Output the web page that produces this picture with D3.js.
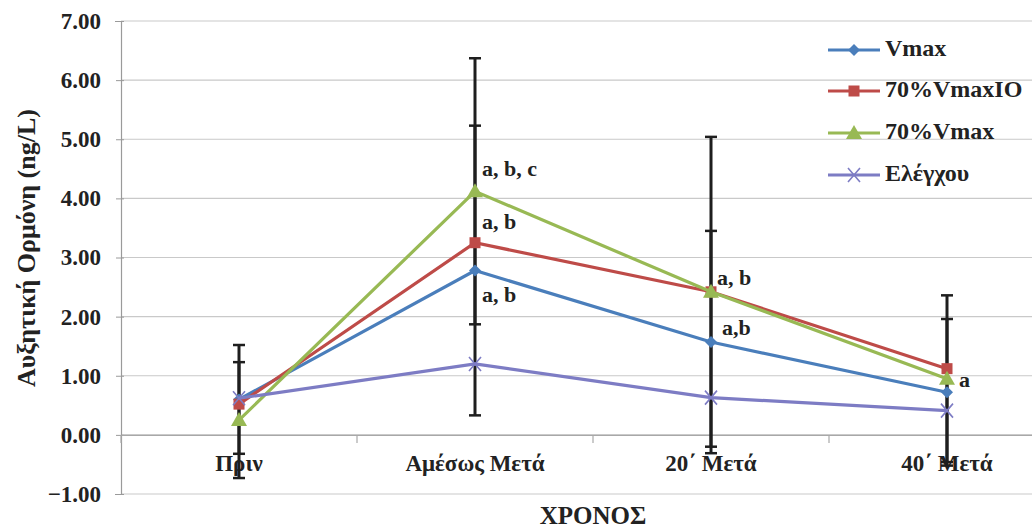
<!DOCTYPE html>
<html><head><meta charset="utf-8">
<script src="https://cdn.jsdelivr.net/npm/d3@7"></script>
<style>
html,body{margin:0;padding:0;background:#fff;}
svg{display:block;font-family:"Liberation Serif","Times New Roman",serif;font-weight:bold;}
</style></head>
<body><svg id="c" width="1032" height="528"></svg>
<script>
const categories = ["Πριν", "Αμέσως Μετά", "20΄ Μετά", "40΄ Μετά"];
const seriesNames = ["Vmax", "70%VmaxIO", "70%Vmax", "Ελέγχου"];
const vmax      = [0.60, 2.78, 1.57, 0.72];
const vmaxIO70  = [0.52, 3.25, 2.42, 1.12];
const vmax70    = [0.25, 4.12, 2.42, 0.95];
const control   = [0.62, 1.20, 0.63, 0.41];
const sdVmax    = [0.92, 2.45, 1.88, 1.24];
const sdVmax70  = [0.98, 2.25, 2.62, 1.41];
const yTicks    = [-1, 0, 1, 2, 3, 4, 5, 6, 7];
const annotations = [
  {cat: 1, value: 4.12, text: "a, b, c", dx: 7, dy: -20},
  {cat: 1, value: 3.25, text: "a, b", dx: 7, dy: -19},
  {cat: 1, value: 2.78, text: "a, b", dx: 7, dy: 26},
  {cat: 2, value: 2.42, text: "a, b", dx: 6, dy: -12},
  {cat: 2, value: 1.57, text: "a,b", dx: 11, dy: -12},
  {cat: 3, value: 0.95, text: "a", dx: 12, dy: 3}
];

const colors = ["#4a7ebb", "#be4b48", "#98b954", "#7d7cc4"];
const shapes = ["diamond", "square", "triangle", "cross"];
const series = [vmax, vmaxIO70, vmax70, control];
const errs = [sdVmax, null, sdVmax70, null];

const svg = d3.select("#c");
const x = d3.scaleBand().domain(categories).range([121, 1065]);
const y = d3.scaleLinear().domain([-1, 7]).range([494, 21]);
const cx = c => x(c) + x.bandwidth() / 2;

// gridlines
svg.append("g").selectAll("line").data(yTicks).join("line")
  .attr("x1", 121).attr("x2", 1065)
  .attr("y1", d => y(d)).attr("y2", d => y(d))
  .attr("stroke", "#c9c9c9").attr("stroke-width", 1.2);

// y axis
const yAxis = d3.axisLeft(y).tickValues(yTicks).tickFormat(d3.format(".2f")).tickSize(6).tickPadding(14);
const gy = svg.append("g").attr("transform", "translate(121,0)").call(yAxis);
gy.select(".domain").attr("stroke", "#9a9a9a").attr("stroke-width", 1.2);
gy.selectAll(".tick line").attr("stroke", "#9a9a9a").attr("x2", -5).attr("x1", 3);
gy.selectAll(".tick text").attr("font-size", 23).attr("font-weight", "bold")
  .attr("font-family", "Liberation Serif").attr("fill", "#222");

// x axis at 0
const xAxis = d3.axisBottom(x).tickSize(0).tickPadding(20);
const gx = svg.append("g").attr("transform", `translate(0,${y(0)})`).call(xAxis);
gx.select(".domain").attr("stroke", "#a8a8a8").attr("stroke-width", 1.2);
gx.selectAll(".tick text").attr("font-size", 23).attr("font-weight", "bold")
  .attr("font-family", "Liberation Serif").attr("fill", "#222");
svg.append("g").selectAll("line").data(categories).join("line")
  .attr("x1", d => x(d)).attr("x2", d => x(d))
  .attr("y1", y(0)).attr("y2", y(0) + 8)
  .attr("stroke", "#a8a8a8").attr("stroke-width", 1.2);

// axis titles
svg.append("text").attr("transform", `translate(29,248) rotate(-90)`)
  .attr("text-anchor", "middle").attr("dominant-baseline", "middle")
  .attr("font-size", 26).attr("fill", "#222").text("Αυξητική Ορμόνη (ng/L)");
svg.append("text").attr("x", 593).attr("y", 524)
  .attr("text-anchor", "middle").attr("font-size", 25).attr("fill", "#222").text("ΧΡΟΝΟΣ");

// error bars
series.forEach((s, i) => {
  if (!errs[i]) return;
  const g = svg.append("g");
  s.forEach((v, j) => {
    const e = errs[i][j], X = cx(categories[j]);
    g.append("line").attr("x1", X).attr("x2", X).attr("y1", y(v + e)).attr("y2", y(v - e))
      .attr("stroke", "#1e1e1e").attr("stroke-width", 3);
    [v + e, v - e].forEach(t => g.append("line").attr("x1", X - 6).attr("x2", X + 6)
      .attr("y1", y(t)).attr("y2", y(t)).attr("stroke", "#1e1e1e").attr("stroke-width", 2.5));
  });
});

function marker(g, shape, color, X, Y) {
  if (shape === "diamond") {
    g.append("path").attr("d", `M${X},${Y-6}L${X+6},${Y}L${X},${Y+6}L${X-6},${Y}Z`).attr("fill", color);
  } else if (shape === "square") {
    g.append("rect").attr("x", X-5.5).attr("y", Y-5.5).attr("width", 11).attr("height", 11).attr("fill", color);
  } else if (shape === "triangle") {
    g.append("path").attr("d", `M${X},${Y-8}L${X+8},${Y+6}L${X-8},${Y+6}Z`).attr("fill", color);
  } else {
    g.append("path").attr("d", `M${X-6},${Y-7}L${X+6},${Y+7}M${X-6},${Y+7}L${X+6},${Y-7}`)
      .attr("stroke", color).attr("stroke-width", 1.6).attr("fill", "none");
  }
}

// lines + markers
const line = d3.line().x((d, j) => cx(categories[j])).y(d => y(d));
series.forEach((s, i) => {
  const g = svg.append("g");
  g.append("path").datum(s).attr("d", line).attr("fill", "none")
    .attr("stroke", colors[i]).attr("stroke-width", 3.2);
  s.forEach((v, j) => marker(g, shapes[i], colors[i], cx(categories[j]), y(v)));
});

// annotations
svg.append("g").selectAll("text").data(annotations).join("text")
  .attr("x", d => cx(categories[d.cat]) + d.dx)
  .attr("y", d => y(d.value) + d.dy)
  .attr("dominant-baseline", "middle")
  .attr("font-size", 22).attr("fill", "#222").text(d => d.text);

// legend
const lg = svg.append("g");
const legendY = [50, 91, 133, 175];
seriesNames.forEach((n, i) => {
  lg.append("line").attr("x1", 828).attr("x2", 880).attr("y1", legendY[i]).attr("y2", legendY[i])
    .attr("stroke", colors[i]).attr("stroke-width", 3.2);
  marker(lg, shapes[i], colors[i], 854, legendY[i]);
  lg.append("text").attr("x", 885).attr("y", legendY[i]).attr("dominant-baseline", "middle")
    .attr("font-size", 24).attr("fill", "#222").text(n);
});
</script></body></html>
